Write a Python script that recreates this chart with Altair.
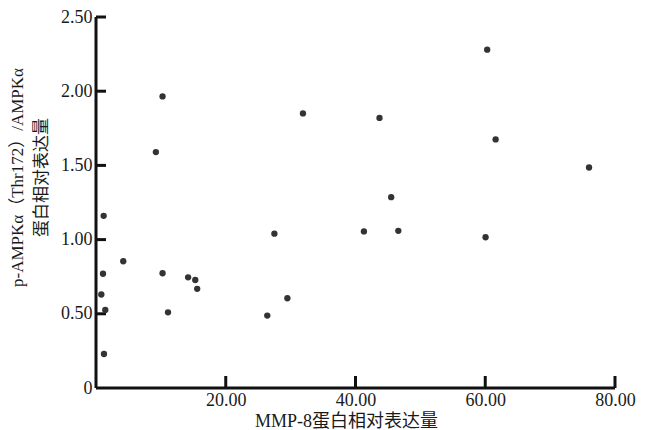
import altair as alt
import pandas as pd

# MMP-8 protein relative expression (x) vs p-AMPKα(Thr172)/AMPKα (y)
mmp8 = [1.18, 4.2, 1.08, 10.26, 14.2, 15.3, 15.6, 0.82, 1.43, 11.1, 1.23,
        10.26, 9.23, 31.9, 27.5, 29.5, 26.4,
        60.3, 43.7, 61.6, 76.0, 45.5, 41.3, 46.6, 60.05]
ampk = [1.16, 0.854, 0.77, 0.773, 0.746, 0.728, 0.668, 0.63, 0.526, 0.51, 0.229,
        1.965, 1.59, 1.85, 1.04, 0.605, 0.488,
        2.28, 1.82, 1.675, 1.486, 1.286, 1.055, 1.059, 1.016]

x_ticks = [20, 40, 60, 80]
y_ticks = [0.5, 1.0, 1.5, 2.0, 2.5]
y_axis_values = [0, 0.5, 1.0, 1.5, 2.0, 2.5]
x_range = [0, 80]
y_range = [0, 2.5]

x_title = "MMP-8蛋白相对表达量"
y_title = ["p-AMPKα（Thr172）/AMPKα", "蛋白相对表达量"]

FONT = "Liberation Serif, Noto Sans CJK SC"
INK = "#111111"
TEXT = "#1a1a1a"

df = pd.DataFrame({"x": mmp8, "y": ampk})
xt = pd.DataFrame({"x": x_ticks, "y": [y_range[0]] * len(x_ticks)})
yt = pd.DataFrame({"y": y_ticks, "x": [x_range[0]] * len(y_ticks)})
xline = pd.DataFrame({"x": [x_range[0]], "x2": [x_range[1]], "y": [y_range[0]]})
yline = pd.DataFrame({"y": [y_range[0]], "y2": [y_range[1]], "x": [x_range[0]]})

xscale = alt.Scale(domain=x_range, nice=False, zero=True)
yscale = alt.Scale(domain=y_range, nice=False, zero=True)

x_axis = alt.Axis(
    values=x_ticks, format=".2f", title=x_title, grid=False, ticks=False,
    domain=False, labelFont=FONT, labelFontSize=18, labelColor=TEXT,
    labelPadding=3, titleFont=FONT, titleFontSize=18,
    titleFontWeight="normal", titleColor=TEXT, titleX=250, titleY=24,
    titleBaseline="top", labelFlush=False)
y_axis = alt.Axis(
    values=y_axis_values,
    labelExpr="datum.value == 0 ? '0' : format(datum.value, '.2f')",
    title=y_title, grid=False, ticks=False, domain=False, labelFont=FONT,
    labelFontSize=18, labelColor=TEXT, labelPadding=4, titleFont=FONT,
    titleFontSize=17, titleFontWeight="normal", titleColor=TEXT,
    titleLineHeight=24, titleY=160, titleX=-70, labelFlush=False)

X = alt.X("x:Q", scale=xscale, axis=x_axis)
Y = alt.Y("y:Q", scale=yscale, axis=y_axis)

points = alt.Chart(df).mark_circle(size=40, color="#333333", opacity=1).encode(
    x=X, y=Y)

x_axis_line = alt.Chart(xline).mark_rule(color=INK, strokeWidth=3).encode(
    x=X, x2="x2:Q", y=Y)
y_axis_line = alt.Chart(yline).mark_rule(color=INK, strokeWidth=3).encode(
    y=Y, y2="y2:Q", x=X)

xticks = alt.Chart(xt).mark_tick(orient="vertical", size=12, thickness=3,
                                   color=INK, opacity=1, yOffset=-6).encode(
    x=X, y=Y)
yticks = alt.Chart(yt).mark_tick(orient="horizontal", size=10, thickness=3,
                                   color=INK, opacity=1, xOffset=5).encode(
    x=X, y=Y)

chart = alt.layer(x_axis_line, y_axis_line, xticks, yticks, points).properties(
    width=519, height=371,
    background="white",
    padding={"left": 0, "top": 0, "right": 0, "bottom": 0},
).configure_view(strokeWidth=0)

chart.save("out.html", embed_options={"renderer": "svg", "actions": False})
